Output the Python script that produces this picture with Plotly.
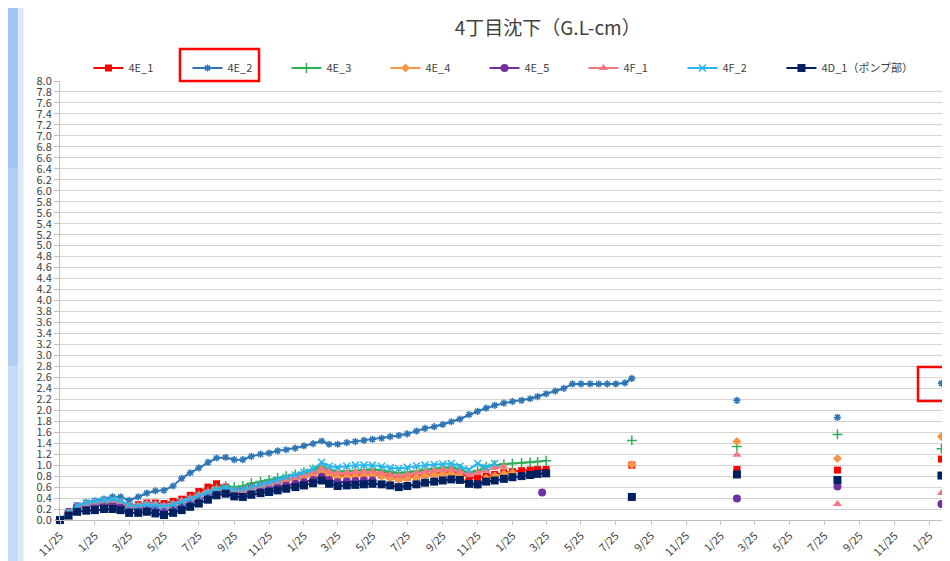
import plotly.graph_objects as go
import pandas as pd

TITLE = "4丁目沈下（G.L-cm）"

# semi-monthly measurement dates (dense part)
DENSE_DATES = [
    "2011-11-25", "2011-12-10", "2011-12-25", "2012-01-10", "2012-01-25", "2012-02-10", "2012-02-25",
    "2012-03-10", "2012-03-25", "2012-04-10", "2012-04-25", "2012-05-10", "2012-05-25", "2012-06-10",
    "2012-06-25", "2012-07-10", "2012-07-25", "2012-08-10", "2012-08-25", "2012-09-10", "2012-09-25",
    "2012-10-10", "2012-10-25", "2012-11-10", "2012-11-25", "2012-12-10", "2012-12-25", "2013-01-10",
    "2013-01-25", "2013-02-10", "2013-02-25", "2013-03-10", "2013-03-25", "2013-04-10", "2013-04-25",
    "2013-05-10", "2013-05-25", "2013-06-10", "2013-06-25", "2013-07-10", "2013-07-25", "2013-08-10",
    "2013-08-25", "2013-09-10", "2013-09-25", "2013-10-10", "2013-10-25", "2013-11-10", "2013-11-25",
    "2013-12-10", "2013-12-25", "2014-01-10", "2014-01-25", "2014-02-10", "2014-02-25", "2014-03-10",
    "2014-03-25", "2014-04-10", "2014-04-25", "2014-05-10", "2014-05-25", "2014-06-10", "2014-06-25",
    "2014-07-10", "2014-07-25", "2014-08-10", "2014-08-22",
]
# isolated later measurements
SPARSE_DATES = ["2014-03-18", "2014-08-22", "2015-02-22", "2015-08-17", "2016-02-15"]

D_4E_1 = [0.0, 0.12, 0.22, 0.26, 0.28, 0.30, 0.30, 0.29, 0.25, 0.28, 0.31, 0.31, 0.30, 0.34, 0.38,
          0.45, 0.52, 0.60, 0.66, 0.60, 0.55, 0.56, 0.60, 0.63, 0.66, 0.70, 0.73, 0.76, 0.80, 0.84,
          0.90, 0.84, 0.80, 0.81, 0.82, 0.83, 0.84, 0.82, 0.79, 0.76, 0.78, 0.80, 0.83, 0.85, 0.86,
          0.88, 0.85, 0.78, 0.77, 0.80, 0.83, 0.86, 0.88, 0.90, 0.91, 0.92, 0.92]
D_4E_2 = [0.0, 0.12, 0.24, 0.32, 0.35, 0.38, 0.42, 0.42, 0.36, 0.42, 0.49, 0.53, 0.54, 0.62, 0.76,
          0.86, 0.95, 1.05, 1.13, 1.14, 1.10, 1.10, 1.16, 1.20, 1.22, 1.26, 1.28, 1.31, 1.35, 1.39,
          1.44, 1.38, 1.38, 1.41, 1.43, 1.45, 1.47, 1.49, 1.52, 1.54, 1.57, 1.62, 1.67, 1.70, 1.74,
          1.79, 1.84, 1.92, 1.98, 2.04, 2.09, 2.13, 2.16, 2.18, 2.21, 2.25, 2.30, 2.35, 2.40, 2.48,
          2.48, 2.48, 2.48, 2.48, 2.48, 2.50, 2.58]
D_4E_3 = [0.0, 0.12, 0.22, 0.27, 0.30, 0.32, 0.33, 0.31, 0.24, 0.24, 0.27, 0.27, 0.24, 0.28, 0.33,
          0.39, 0.45, 0.52, 0.58, 0.62, 0.60, 0.62, 0.67, 0.70, 0.73, 0.77, 0.80, 0.83, 0.87, 0.92,
          0.98, 0.92, 0.88, 0.89, 0.90, 0.91, 0.92, 0.90, 0.87, 0.85, 0.87, 0.89, 0.92, 0.94, 0.95,
          0.96, 0.93, 0.86, 0.90, 0.97, 1.00, 1.02, 1.03, 1.04, 1.05, 1.06, 1.08]
D_4E_4 = [0.0, 0.12, 0.20, 0.24, 0.26, 0.27, 0.27, 0.26, 0.21, 0.22, 0.24, 0.24, 0.21, 0.25, 0.30,
          0.35, 0.41, 0.48, 0.54, 0.56, 0.51, 0.51, 0.55, 0.59, 0.62, 0.66, 0.70, 0.74, 0.78, 0.82,
          0.88, 0.82, 0.78, 0.79, 0.80, 0.81, 0.82, 0.80, 0.76, 0.74, 0.76, 0.78, 0.81, 0.83, 0.84,
          0.85, 0.80, 0.66, 0.64, 0.76, 0.80, 0.84, 0.86]
D_4E_5 = [0.0, 0.15, 0.25, 0.26, 0.27, 0.27, 0.27, 0.25, 0.20, 0.20, 0.22, 0.20, 0.16, 0.20, 0.25,
          0.30, 0.36, 0.43, 0.50, 0.53, 0.48, 0.47, 0.51, 0.54, 0.56, 0.60, 0.63, 0.66, 0.69, 0.73,
          0.79, 0.73, 0.69, 0.70, 0.71, 0.72, 0.72]
D_4F_1 = [0.0, 0.14, 0.24, 0.29, 0.32, 0.34, 0.35, 0.33, 0.26, 0.27, 0.30, 0.29, 0.26, 0.30, 0.35,
          0.40, 0.46, 0.52, 0.57, 0.58, 0.53, 0.53, 0.58, 0.62, 0.65, 0.69, 0.73, 0.77, 0.81, 0.86,
          0.94, 0.88, 0.85, 0.86, 0.87, 0.88, 0.88, 0.85, 0.82, 0.80, 0.83, 0.86, 0.88, 0.90, 0.91,
          0.92, 0.88, 0.82, 0.86, 0.90, 0.95, 0.97]
D_4F_2 = [0.0, 0.14, 0.26, 0.31, 0.34, 0.36, 0.38, 0.35, 0.27, 0.26, 0.28, 0.27, 0.25, 0.28, 0.33,
          0.38, 0.44, 0.50, 0.56, 0.59, 0.55, 0.56, 0.60, 0.64, 0.68, 0.73, 0.78, 0.82, 0.87, 0.93,
          1.05, 0.98, 0.96, 0.98, 1.00, 1.00, 1.00, 0.98, 0.95, 0.94, 0.96, 0.99, 1.00, 1.01, 1.02,
          1.03, 0.98, 0.92, 1.03, 0.96, 1.03]
D_4D_1 = [0.0, 0.08, 0.15, 0.17, 0.18, 0.20, 0.20, 0.18, 0.13, 0.13, 0.15, 0.12, 0.09, 0.13, 0.18,
          0.24, 0.30, 0.37, 0.45, 0.48, 0.43, 0.42, 0.46, 0.49, 0.51, 0.54, 0.57, 0.60, 0.63, 0.67,
          0.72, 0.66, 0.62, 0.63, 0.64, 0.65, 0.66, 0.65, 0.63, 0.60, 0.62, 0.65, 0.68, 0.70, 0.72,
          0.74, 0.73, 0.66, 0.65, 0.70, 0.72, 0.75, 0.78, 0.80, 0.82, 0.84, 0.85]

P_4E_1 = [None, 1.00, 0.92, 0.91, 1.11]
P_4E_2 = [None, None, 2.18, 1.87, 2.49]
P_4E_3 = [None, 1.45, 1.34, 1.56, 1.30]
P_4E_4 = [None, 1.01, 1.43, 1.12, 1.52]
P_4E_5 = [0.50, None, 0.39, 0.61, 0.29]
P_4F_1 = [None, None, 1.19, 0.29, 0.49]
P_4F_2 = [None, None, None, None, None]
P_4D_1 = [None, 0.42, 0.83, 0.73, 0.81]

NAMES = ["4E_1", "4E_2", "4E_3", "4E_4", "4E_5", "4F_1", "4F_2", "4D_1（ポンプ部）"]
DENSE = [D_4E_1, D_4E_2, D_4E_3, D_4E_4, D_4E_5, D_4F_1, D_4F_2, D_4D_1]
SPARSE = [P_4E_1, P_4E_2, P_4E_3, P_4E_4, P_4E_5, P_4F_1, P_4F_2, P_4D_1]
COLORS = ["#ff0000", "#2e75b6", "#2fae5a", "#f79646", "#7030a0", "#f4777f", "#29b6ee", "#002060"]
SYMBOLS = ["square", "asterisk-open", "cross-thin-open", "diamond", "circle", "triangle-up",
           "x-thin-open", "square"]
SIZES = [7, 6, 7, 7, 8, 8, 7, 8]
LEGENDS = ["legend"] * 7 + ["legend2"]

X_START, X_END = "2011-11-25", "2016-03-01"
Y_MIN, Y_MAX = 0.0, 8.0

FONT = "Noto Sans CJK JP"

fig = go.Figure()
for name, dv, sv, col, sym, sz, lg in zip(NAMES, DENSE, SPARSE, COLORS, SYMBOLS, SIZES, LEGENDS):
    open_sym = sym.endswith("open")
    mk = dict(symbol=sym, size=sz, color=col,
              line=dict(color=col, width=1.5 if open_sym else 0))
    fig.add_trace(go.Scatter(
        x=DENSE_DATES[:len(dv)], y=dv, name=name, mode="lines+markers",
        line=dict(color=col, width=2), marker=mk, legendgroup=name, legend=lg,
        cliponaxis=False))
    fig.add_trace(go.Scatter(
        x=SPARSE_DATES, y=sv, name=name, mode="markers", marker=mk,
        legendgroup=name, legend=lg, showlegend=False, cliponaxis=False))

# helpers for annotation boxes, derived from the axis ranges
x0t, x1t = pd.Timestamp(X_START), pd.Timestamp(X_END)
def xp(d):
    return (pd.Timestamp(d) - x0t) / (x1t - x0t)
def yp(v):
    return (v - Y_MIN) / (Y_MAX - Y_MIN)

M_T, M_B = 73, 49
PLOT_H = 561 - M_T - M_B

last_d = pd.Timestamp(SPARSE_DATES[-1])
last_v = P_4E_2[-1]
LEG_X = 0.032
ITEM_W = 99.0 / 890.0
LEG_Y = 1 + 13.0 / PLOT_H
shapes = [
    # highlight box around final 4E_2 point
    dict(type="rect", xref="paper", yref="paper",
         x0=xp(last_d - pd.Timedelta(days=41)), x1=xp(last_d + pd.Timedelta(days=24)),
         y0=yp(last_v - 0.32), y1=yp(last_v + 0.30),
         line=dict(color="#ff0000", width=2.5), fillcolor="rgba(0,0,0,0)"),
    # highlight box around legend entry 4E_2
    dict(type="rect", xref="paper", yref="paper", x0=0.1348, x1=0.2236,
         y0=1.0, y1=1 + 32.0 / PLOT_H,
         line=dict(color="#ff0000", width=2.5), fillcolor="rgba(0,0,0,0)"),
]
# slide background strip at left edge
for (ya, yb, c) in [(-0.12, 0.35, "#c3daf8"), (0.35, 0.8, "#b0cff6"), (0.8, 1.18, "#a2c6f5")]:
    shapes.append(dict(type="rect", xref="paper", yref="paper", x0=-0.0585, x1=-0.047,
                       y0=ya, y1=yb, line=dict(width=0), fillcolor=c, layer="below"))
    shapes.append(dict(type="rect", xref="paper", yref="paper", x0=-0.047, x1=-0.041,
                       y0=ya, y1=yb, line=dict(width=0), fillcolor="#dde9fb", layer="below"))

leg_common = dict(orientation="h", xanchor="left", y=LEG_Y, yanchor="middle",
                  font=dict(family=FONT, size=11, color="#404040"), itemwidth=30,
                  bgcolor="rgba(0,0,0,0)", tracegroupgap=0)

fig.update_layout(
    width=950, height=561,
    margin=dict(l=52, r=8, t=M_T, b=M_B, autoexpand=False),
    paper_bgcolor="white", plot_bgcolor="white",
    font=dict(family=FONT, size=11, color="#404040"),
    title=dict(text=TITLE, xref="paper", x=0.548, xanchor="center", y=0.963, yanchor="middle",
               font=dict(family=FONT, size=19, color="#404040")),
    legend=dict(x=LEG_X, entrywidth=54, entrywidthmode="pixels", **leg_common),
    legend2=dict(x=LEG_X + 7 * ITEM_W, **leg_common),
    showlegend=True,
    shapes=shapes,
    xaxis=dict(type="date", range=[X_START, X_END], tick0=X_START, dtick="M2",
               tickformat="%-m/%d", tickangle=-45, ticks="outside", ticklen=4,
               tickcolor="#bfbfbf", showline=True, linecolor="#bfbfbf", linewidth=1,
               showgrid=False, zeroline=False, automargin=False,
               tickfont=dict(size=11, color="#404040")),
    yaxis=dict(range=[Y_MIN, Y_MAX], tick0=0, dtick=0.2, tickformat=".1f",
               ticks="outside", ticklen=5, tickcolor="#bfbfbf", showline=True,
               linecolor="#bfbfbf", linewidth=1, showgrid=True, gridcolor="#d4d4d4",
               gridwidth=1, zeroline=False, automargin=False,
               tickfont=dict(size=11, color="#404040")),
)

fig.write_html("out.html")
